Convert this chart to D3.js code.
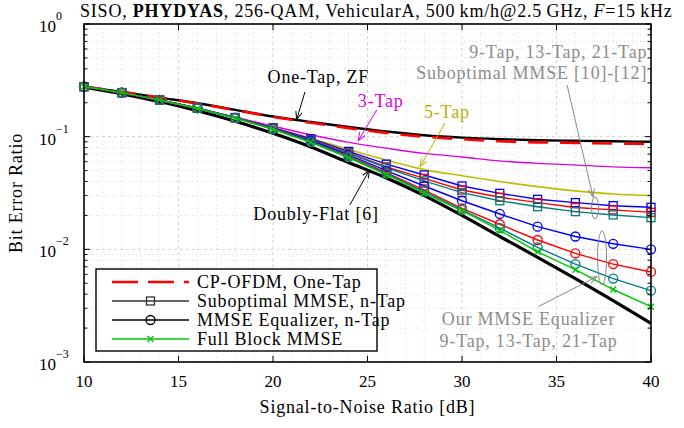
<!DOCTYPE html>
<html lang="en">
<head>
  <meta charset="UTF-8" />
  <title>BER vs SNR, PHYDYAS</title>
  <script src="https://d3js.org/d3.v7.min.js"></script>
  <style>
    html, body { margin: 0; background: #fff; }
    svg { display: block; font-family: "Liberation Serif", "DejaVu Serif", serif; }
    .grid-major line { stroke: #c8c8c8; stroke-width: 0.8; stroke-dasharray: 3,3; }
    .grid-minor line { stroke: #d4d4d4; stroke-width: 0.8; stroke-dasharray: 1,3; }
    .tick-label { font-size: 17px; fill: #000; }
    .wide { font-size: 18px; letter-spacing: 0.8px; }
  </style>
</head>
<body>
<svg id="chart" width="684" height="428"></svg>
<script>
// ---- data ----
const snr = [10, 12, 14, 16, 18, 20, 22, 24, 26, 28, 30, 32, 34, 36, 38, 40];

const oneTapZF   = [0.278, 0.250, 0.222, 0.198, 0.173, 0.151, 0.135, 0.122, 0.111, 0.103, 0.098, 0.095, 0.093, 0.092, 0.091, 0.090];
const cpOfdm     = [0.278, 0.250, 0.222, 0.197, 0.172, 0.150, 0.133, 0.119, 0.108, 0.100, 0.095, 0.091, 0.089, 0.088, 0.087, 0.086];
const tap3       = [0.278, 0.243, 0.209, 0.177, 0.149, 0.124, 0.104, 0.089, 0.079, 0.071, 0.066, 0.061, 0.058, 0.056, 0.054, 0.053];
const tap5       = [0.278, 0.245, 0.211, 0.178, 0.147, 0.120, 0.097, 0.077, 0.062, 0.051, 0.045, 0.040, 0.036, 0.033, 0.031, 0.030];
const doublyFlat = [0.275, 0.240, 0.205, 0.170, 0.137, 0.107, 0.081, 0.059, 0.043, 0.030, 0.020, 0.013, 0.0085, 0.0055, 0.0035, 0.0022];

const subMmse9   = [0.278, 0.246, 0.212, 0.180, 0.148, 0.120, 0.096, 0.074, 0.057, 0.0457, 0.0365, 0.0314, 0.0278, 0.0260, 0.0244, 0.0236];
const subMmse13  = [0.278, 0.246, 0.212, 0.179, 0.147, 0.119, 0.094, 0.072, 0.054, 0.0427, 0.0336, 0.0290, 0.0260, 0.0235, 0.0224, 0.0213];
const subMmse21  = [0.278, 0.246, 0.212, 0.179, 0.147, 0.118, 0.093, 0.071, 0.053, 0.0405, 0.0319, 0.0270, 0.0239, 0.0216, 0.0202, 0.0191];
const mmse9      = [0.278, 0.246, 0.212, 0.179, 0.147, 0.118, 0.092, 0.069, 0.050, 0.0365, 0.0270, 0.0206, 0.0159, 0.0130, 0.0112, 0.0100];
const mmse13     = [0.278, 0.246, 0.212, 0.179, 0.147, 0.117, 0.090, 0.067, 0.048, 0.0336, 0.0231, 0.0167, 0.0121, 0.0092, 0.0074, 0.0063];
const mmse21     = [0.278, 0.246, 0.212, 0.179, 0.147, 0.117, 0.090, 0.066, 0.047, 0.0325, 0.0224, 0.0154, 0.0104, 0.0074, 0.0055, 0.0043];
const fullBlock  = [0.278, 0.246, 0.212, 0.178, 0.146, 0.116, 0.089, 0.065, 0.046, 0.0315, 0.0220, 0.0147, 0.0095, 0.0066, 0.0044, 0.0031];

const xTicks = [10, 15, 20, 25, 30, 35, 40];
const yTicks = [1, 0.1, 0.01, 0.001];
const yTickExp = ['0', '\u22121', '\u22122', '\u22123'];

const legendLabels = ['CP-OFDM, One-Tap', 'Suboptimal MMSE, n-Tap', 'MMSE Equalizer, n-Tap', 'Full Block MMSE'];

// ---- layout ----
const W = 684, H = 428;
const margin = { top: 24, right: 33, bottom: 66, left: 84 };
const iw = W - margin.left - margin.right;
const ih = H - margin.top - margin.bottom;

const svg = d3.select('#chart');
const g = svg.append('g').attr('transform', `translate(${margin.left},${margin.top})`);

const x = d3.scaleLinear().domain([10, 40]).range([0, iw]);
const y = d3.scaleLog().domain([1e-3, 1]).range([ih, 0]);

// minor grid
const xMinor = d3.range(11, 40).filter(v => v % 5 !== 0);
const yMinor = [];
[1e-3, 1e-2, 1e-1].forEach(d => { for (let k = 2; k <= 9; k++) yMinor.push(d * k); });

const gm = g.append('g').attr('class', 'grid-minor');
gm.selectAll('.vx').data(xMinor).join('line')
  .attr('x1', d => x(d)).attr('x2', d => x(d)).attr('y1', 0).attr('y2', ih);
gm.selectAll('.hy').data(yMinor).join('line')
  .attr('x1', 0).attr('x2', iw).attr('y1', d => y(d)).attr('y2', d => y(d));

const gM = g.append('g').attr('class', 'grid-major');
gM.selectAll('.vx').data(xTicks.slice(1, -1)).join('line')
  .attr('x1', d => x(d)).attr('x2', d => x(d)).attr('y1', 0).attr('y2', ih);
gM.selectAll('.hy').data(yTicks.slice(1, -1)).join('line')
  .attr('x1', 0).attr('x2', iw).attr('y1', d => y(d)).attr('y2', d => y(d));

// ---- curves ----
const smooth = d3.line().x((d, i) => x(snr[i])).y(d => y(d)).curve(d3.curveMonotoneX);
const straight = d3.line().x((d, i) => x(snr[i])).y(d => y(d));

const plain = [
  { data: doublyFlat, color: '#000', width: 3.2 },
  { data: oneTapZF, color: '#000', width: 2.4 },
  { data: cpOfdm, color: '#ff0000', width: 2.6, dash: '20,12' },
  { data: tap3, color: '#dd00dd', width: 1.3 },
  { data: tap5, color: '#bdbd00', width: 1.6 }
];
plain.forEach(s => {
  g.append('path').attr('d', smooth(s.data)).attr('fill', 'none')
    .attr('stroke', s.color).attr('stroke-width', s.width)
    .attr('stroke-dasharray', s.dash || null);
});

const marked = [
  { data: subMmse9,  color: '#0000ff', mark: 'square' },
  { data: subMmse13, color: '#ff0000', mark: 'square' },
  { data: subMmse21, color: '#008080', mark: 'square' },
  { data: mmse9,     color: '#0000ff', mark: 'circle' },
  { data: mmse13,    color: '#ff0000', mark: 'circle' },
  { data: mmse21,    color: '#008080', mark: 'circle' },
  { data: fullBlock, color: '#00c800', mark: 'x' }
];

function drawMark(sel, type, color) {
  if (type === 'square') {
    sel.append('rect').attr('x', -4).attr('y', -4).attr('width', 8).attr('height', 8)
      .attr('fill', 'none').attr('stroke', color).attr('stroke-width', 1.3);
  } else if (type === 'circle') {
    sel.append('circle').attr('r', 4.5)
      .attr('fill', 'none').attr('stroke', color).attr('stroke-width', 1.3);
  } else {
    sel.append('path').attr('d', 'M-3,-3L3,3M-3,3L3,-3')
      .attr('fill', 'none').attr('stroke', color).attr('stroke-width', 1.4);
  }
}

marked.forEach(s => {
  g.append('path').attr('d', straight(s.data)).attr('fill', 'none')
    .attr('stroke', s.color).attr('stroke-width', 1.4);
  g.append('g').selectAll('g').data(s.data).join('g')
    .attr('transform', (d, i) => `translate(${x(snr[i])},${y(d)})`)
    .each(function () { drawMark(d3.select(this), s.mark, s.color); });
});

// ---- annotations ----
const defs = svg.append('defs');
function arrowMarker(id, color) {
  defs.append('marker').attr('id', id).attr('viewBox', '-10 -5 12 10')
    .attr('refX', 0).attr('refY', 0).attr('markerWidth', 12).attr('markerHeight', 10)
    .attr('markerUnits', 'userSpaceOnUse').attr('orient', 'auto')
    .append('path').attr('d', 'M-8,-3.2L0,0L-8,3.2').attr('fill', 'none')
    .attr('stroke', color).attr('stroke-width', 1);
}
arrowMarker('ah-black', '#000');
arrowMarker('ah-mag', '#dd00dd');
arrowMarker('ah-olive', '#bdbd00');
arrowMarker('ah-gray', '#888');

const notes = [
  { text: 'One-Tap, ZF', at: [22.4, 0.30], color: '#000', anchor: 'middle', from: [21.69, 0.249], to: [21.25, 0.142], head: 'ah-black' },
  { text: '3-Tap', at: [25.7, 0.183], color: '#dd00dd', anchor: 'middle', from: [25.49, 0.1726], to: [24.51, 0.0921], head: 'ah-mag' },
  { text: '5-Tap', at: [29.2, 0.1466], color: '#b5b500', anchor: 'middle', from: [29.1, 0.132], to: [27.78, 0.0542], head: 'ah-olive' },
  { text: 'Doubly-Flat [6]', at: [22.28, 0.01823], color: '#000', anchor: 'middle', from: [24.07, 0.0248], to: [25.1, 0.0506], head: 'ah-black' },
  { text: '9-Tap, 13-Tap, 21-Tap', at: [39.8, 0.4994], color: '#8c8c8c', anchor: 'end' },
  { text: 'Suboptimal MMSE [10]-[12]', at: [39.8, 0.325], color: '#8c8c8c', anchor: 'end', from: [35.56, 0.2875], to: [36.93, 0.0292], head: 'ah-gray' },
  { text: 'Our MMSE Equalizer', at: [33.52, 0.00213], color: '#8c8c8c', anchor: 'middle', from: [34.04, 0.0031], to: [37.13, 0.00573], head: 'ah-gray' },
  { text: '9-Tap, 13-Tap, 21-Tap', at: [33.52, 0.00137], color: '#8c8c8c', anchor: 'middle' }
];
const ellipses = [
  { at: [37.04, 0.0233], rx: 3.5, ry: 11 },
  { at: [37.41, 0.0084], rx: 4.5, ry: 27 }
];

ellipses.forEach(e => {
  g.append('ellipse').attr('cx', x(e.at[0])).attr('cy', y(e.at[1]))
    .attr('rx', e.rx).attr('ry', e.ry).attr('fill', 'none')
    .attr('stroke', '#888').attr('stroke-width', 1);
});
notes.forEach(n => {
  if (n.from) {
    g.append('line')
      .attr('x1', x(n.from[0])).attr('y1', y(n.from[1]))
      .attr('x2', x(n.to[0])).attr('y2', y(n.to[1]))
      .attr('stroke', n.head === 'ah-gray' ? '#888' : n.color).attr('stroke-width', 1)
      .attr('marker-end', `url(#${n.head})`);
  }
  g.append('text').attr('class', 'wide')
    .attr('x', x(n.at[0])).attr('y', y(n.at[1]))
    .attr('text-anchor', n.anchor).attr('fill', n.color).text(n.text);
});

// ---- axes frame and ticks ----
g.append('rect').attr('width', iw).attr('height', ih)
  .attr('fill', 'none').attr('stroke', '#000').attr('stroke-width', 1.6);

const ticks = g.append('g').attr('stroke', '#000').attr('stroke-width', 1);
xTicks.forEach(v => {
  ticks.append('line').attr('x1', x(v)).attr('x2', x(v)).attr('y1', ih).attr('y2', ih - 6);
  ticks.append('line').attr('x1', x(v)).attr('x2', x(v)).attr('y1', 0).attr('y2', 6);
});
yTicks.forEach(v => {
  ticks.append('line').attr('x1', 0).attr('x2', 6).attr('y1', y(v)).attr('y2', y(v));
  ticks.append('line').attr('x1', iw).attr('x2', iw - 6).attr('y1', y(v)).attr('y2', y(v));
});
yMinor.forEach(v => {
  ticks.append('line').attr('x1', 0).attr('x2', 3.5).attr('y1', y(v)).attr('y2', y(v));
  ticks.append('line').attr('x1', iw).attr('x2', iw - 3.5).attr('y1', y(v)).attr('y2', y(v));
});

g.selectAll('.xl').data(xTicks).join('text').attr('class', 'tick-label')
  .attr('x', d => x(d)).attr('y', ih + 25).attr('text-anchor', 'middle').text(d => d);

const yl = g.selectAll('.yl').data(yTicks).join('text').attr('class', 'tick-label')
  .attr('x', -45).attr('y', d => y(d) + 8).attr('text-anchor', 'start');
yl.append('tspan').text('10');
yl.append('tspan').attr('dy', -12).style('font-size', '12px').text((d, i) => yTickExp[i]);

// axis titles
g.append('text').attr('class', 'wide').attr('x', iw / 2).attr('y', ih + 51)
  .attr('text-anchor', 'middle').text('Signal-to-Noise Ratio [dB]');
g.append('text').attr('class', 'wide').attr('transform', `translate(-62,${ih / 2}) rotate(-90)`)
  .attr('text-anchor', 'middle').text('Bit Error Ratio');

// title
const title = svg.append('text').attr('class', 'wide').attr('x', 80).attr('y', 17);
title.append('tspan').text('SISO, ');
title.append('tspan').style('font-weight', 'bold').text('PHYDYAS');
title.append('tspan').text(', 256-QAM, VehicularA, 500\u2009km/h@2.5\u2009GHz, ');
title.append('tspan').style('font-style', 'italic').text('F');
title.append('tspan').text('=15\u2009kHz');

// ---- legend ----
const lg = g.append('g').attr('transform', `translate(${96 - margin.left},${269 - margin.top})`);
lg.append('rect').attr('width', 281).attr('height', 82)
  .attr('fill', '#fff').attr('stroke', '#000').attr('stroke-width', 1.4);
const legendStyle = [
  { color: '#ff0000', width: 2.6, dash: '26,10', mark: null },
  { color: '#333', width: 1.3, mark: 'square' },
  { color: '#000', width: 1.3, mark: 'circle' },
  { color: '#00c800', width: 1.3, mark: 'x' }
];
legendLabels.forEach((t, i) => {
  const row = lg.append('g').attr('transform', `translate(0,${13 + i * 19})`);
  const st = legendStyle[i];
  row.append('line').attr('x1', 16).attr('x2', 93).attr('stroke', st.color)
    .attr('stroke-width', st.width).attr('stroke-dasharray', st.dash || null);
  if (st.mark) {
    const mk = row.append('g').attr('transform', 'translate(54.5,0)');
    drawMark(mk, st.mark, st.color);
  }
  row.append('text').attr('class', 'wide').attr('x', 101).attr('y', 6).text(t);
});
</script>
</body>
</html>
